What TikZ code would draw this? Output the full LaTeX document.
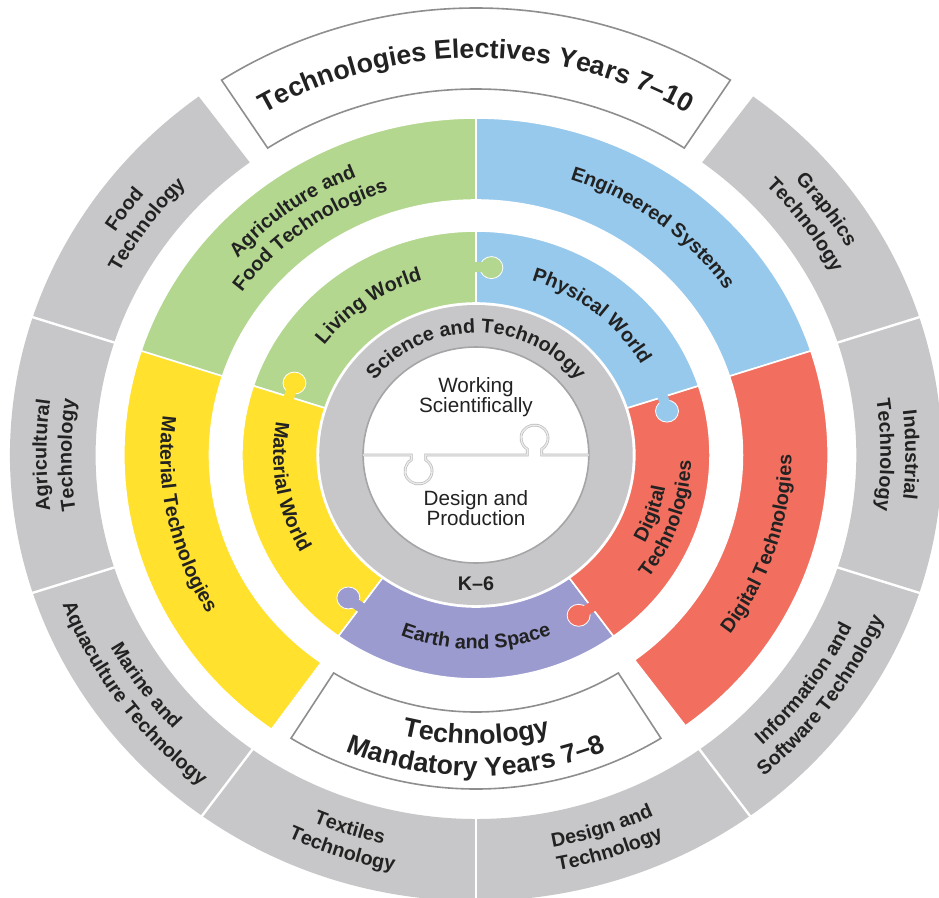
\documentclass[tikz,border=0pt]{standalone}
\usepackage{fontspec}
\setmainfont{Liberation Sans}
\usepackage{tikz}
\usetikzlibrary{decorations.text}
\usepackage{xcolor}

\definecolor{ringgrey}{HTML}{C7C7C9}
\definecolor{leafgreen}{HTML}{B3D78F}
\definecolor{skyblue}{HTML}{97C9EC}
\definecolor{coral}{HTML}{F26F5F}
\definecolor{sunyellow}{HTML}{FFE12E}
\definecolor{lavender}{HTML}{9B9BD0}
\definecolor{boxgrey}{HTML}{8E8E8E}
\definecolor{rimgrey}{HTML}{A5A5A7}
\definecolor{ink}{HTML}{222222}

\newcommand{\lblfont}{\fontsize{14.8}{17}\selectfont\bfseries}
\newcommand{\bigfont}{\fontsize{20}{23}\selectfont\bfseries}
\newcommand{\midfont}{\fontsize{15.5}{15.5}\selectfont}

\begin{document}
\begin{tikzpicture}[
    x=0.7837pt, y=0.75pt,
    sector/.style={draw=white, line width=1.2pt},
    titlebox/.style={fill=white, draw=boxgrey, line width=1.2pt},
    divider/.style={draw=white, line width=1.8pt},
    knob/.style={fill=#1, draw=white, line width=0.6pt},
    seam/.style={draw=gray!55, line width=0.5pt, double=gray!15, double distance=1pt},
    arctext/.style={decorate, decoration={text along path, text align=center, text color=ink, text={|\lblfont|#1}}},
    bigarctext/.style={decorate, decoration={text along path, text align=center, text color=ink, text={|\bigfont|#1}}}
]
    % Canvas
    \fill[white] (-455.5,-442) rectangle (443.1,455);
    \useasboundingbox (-455.5,-442) rectangle (443.1,455);

    % Outer ring: electives
    \fill[ringgrey] (126.5:364) arc[start angle=126.5, end angle=413.5, radius=364] -- (413.5:446) arc[start angle=413.5, end angle=126.5, radius=446] -- cycle;
    \draw[divider] (162:360) -- (162:450);
    \draw[divider] (198:360) -- (198:450);
    \draw[divider] (234:360) -- (234:450);
    \draw[divider] (270:360) -- (270:450);
    \draw[divider] (306:360) -- (306:450);
    \draw[divider] (342:360) -- (342:450);
    \draw[divider] (18:360) -- (18:450);
    \draw[titlebox] (57:366) arc[start angle=57, end angle=123, radius=366] -- (123:447) arc[start angle=123, end angle=57, radius=447] -- cycle;

    % Middle ring: 7-10 contexts
    \draw[sector, fill=leafgreen] (90:255) arc[start angle=90, end angle=162, radius=255] -- (162:337) arc[start angle=162, end angle=90, radius=337] -- cycle;
    \draw[sector, fill=skyblue] (18:255) arc[start angle=18, end angle=90, radius=255] -- (90:337) arc[start angle=90, end angle=18, radius=337] -- cycle;
    \draw[sector, fill=coral] (-53.5:255) arc[start angle=-53.5, end angle=18, radius=255] -- (18:337) arc[start angle=18, end angle=-53.5, radius=337] -- cycle;
    \draw[sector, fill=sunyellow] (162:255) arc[start angle=162, end angle=234.5, radius=255] -- (234.5:337) arc[start angle=234.5, end angle=162, radius=337] -- cycle;
    \draw[titlebox] (238:257) arc[start angle=238, end angle=302, radius=257] -- (302:334) arc[start angle=302, end angle=238, radius=334] -- cycle;

    % Inner ring: K-6 strands
    \draw[sector, fill=leafgreen] (90:152) arc[start angle=90, end angle=162, radius=152] -- (162:224) arc[start angle=162, end angle=90, radius=224] -- cycle;
    \draw[sector, fill=sunyellow] (162:152) arc[start angle=162, end angle=234, radius=152] -- (234:224) arc[start angle=234, end angle=162, radius=224] -- cycle;
    \draw[sector, fill=lavender] (234:152) arc[start angle=234, end angle=306, radius=152] -- (306:224) arc[start angle=306, end angle=234, radius=224] -- cycle;
    \draw[sector, fill=coral] (-54:152) arc[start angle=-54, end angle=18, radius=152] -- (18:224) arc[start angle=18, end angle=-54, radius=224] -- cycle;
    \draw[sector, fill=skyblue] (18:152) arc[start angle=18, end angle=90, radius=152] -- (90:224) arc[start angle=90, end angle=18, radius=224] -- cycle;

    % Puzzle knobs
    \draw[knob=leafgreen] (85.5:188) circle (11);
    \fill[leafgreen] (90.5:183) arc[start angle=90.5, end angle=87, radius=183] -- (87:193) arc[start angle=87, end angle=90.5, radius=193] -- cycle;
    \draw[knob=sunyellow] (157.5:188) circle (11);
    \fill[sunyellow] (162.5:183) arc[start angle=162.5, end angle=159, radius=183] -- (159:193) arc[start angle=159, end angle=162.5, radius=193] -- cycle;
    \draw[knob=lavender] (229.5:188) circle (11);
    \fill[lavender] (234.5:183) arc[start angle=234.5, end angle=231, radius=183] -- (231:193) arc[start angle=231, end angle=234.5, radius=193] -- cycle;
    \draw[knob=coral] (301.5:188) circle (11);
    \fill[coral] (306.5:183) arc[start angle=306.5, end angle=303, radius=183] -- (303:193) arc[start angle=303, end angle=306.5, radius=193] -- cycle;
    \draw[knob=skyblue] (13.5:188) circle (11);
    \fill[skyblue] (18.5:183) arc[start angle=18.5, end angle=15, radius=183] -- (15:193) arc[start angle=15, end angle=18.5, radius=193] -- cycle;

    % Core
    \fill[ringgrey] (0,0) circle (150);
    \draw[fill=white, draw=rimgrey, line width=1.2pt] (0,0) circle (108);
    \draw[seam] (180:108) -- (-62,0) -- (-62,-5.05) arc[start angle=122.6, end angle=417.4, radius=13] -- (-48,0) -- (49,0) -- (49,6.05) arc[start angle=237.4, end angle=-57.4, radius=13] -- (63,0) -- (0:108);

    % Nodes
    \node[font=\midfont, text=ink, align=center] (working) at (0,58) {Working\\Scientifically};
    \node[font=\midfont, text=ink, align=center] (design) at (0,-53) {Design and\\Production};
    \node[font=\lblfont, text=ink] (ksix) at (0,-129) {K–6};

    % Curved labels, core and inner ring
    \path[arctext=Science and Technology] (170:122) arc[start angle=170, end angle=10, radius=122];
    \path[arctext=Living World] (165:182) arc[start angle=165, end angle=85, radius=182];
    \path[arctext=Physical World] (91:182) arc[start angle=91, end angle=11, radius=182];
    \path[arctext=Digital] (-59:184) arc[start angle=-59, end angle=21, radius=184];
    \path[arctext=Technologies] (-59:206) arc[start angle=-59, end angle=21, radius=206];
    \path[arctext=Earth and Space] (225:194) arc[start angle=225, end angle=315, radius=194];
    \path[arctext=Material World] (150:194) arc[start angle=150, end angle=230, radius=194];

    % Curved labels, middle ring
    \path[arctext=Agriculture and] (156:301) arc[start angle=156, end angle=96, radius=301];
    \path[arctext=Food Technologies] (156:277) arc[start angle=156, end angle=96, radius=277];
    \path[arctext=Engineered Systems] (88:290) arc[start angle=88, end angle=18, radius=290];
    \path[arctext=Digital Technologies] (-53:302) arc[start angle=-53, end angle=17, radius=302];
    \path[arctext=Material Technologies] (157:302) arc[start angle=157, end angle=227, radius=302];
    \path[bigarctext=Technology] (240:289) arc[start angle=240, end angle=300, radius=289];
    \path[bigarctext=Mandatory Years 7–8] (238:321) arc[start angle=238, end angle=302, radius=321];

    % Curved labels, outer ring
    \path[bigarctext=Technologies Electives Years 7–10] (125:397) arc[start angle=125, end angle=55, radius=397];
    \path[arctext=Food] (164:411) arc[start angle=164, end angle=124, radius=411];
    \path[arctext=Technology] (164:387) arc[start angle=164, end angle=124, radius=387];
    \path[arctext=Agricultural] (200:411) arc[start angle=200, end angle=160, radius=411];
    \path[arctext=Technology] (200:387) arc[start angle=200, end angle=160, radius=387];
    \path[arctext=Marine and] (196:399) arc[start angle=196, end angle=236, radius=399];
    \path[arctext=Aquaculture Technology] (196:423) arc[start angle=196, end angle=236, radius=423];
    \path[arctext=Textiles] (232:399) arc[start angle=232, end angle=272, radius=399];
    \path[arctext=Technology] (232:423) arc[start angle=232, end angle=272, radius=423];
    \path[arctext=Design and] (268:399) arc[start angle=268, end angle=308, radius=399];
    \path[arctext=Technology] (268:423) arc[start angle=268, end angle=308, radius=423];
    \path[arctext=Information and] (304:399) arc[start angle=304, end angle=344, radius=399];
    \path[arctext=Software Technology] (304:423) arc[start angle=304, end angle=344, radius=423];
    \path[arctext=Industrial] (20:411) arc[start angle=20, end angle=-20, radius=411];
    \path[arctext=Technology] (20:387) arc[start angle=20, end angle=-20, radius=387];
    \path[arctext=Graphics] (56:411) arc[start angle=56, end angle=16, radius=411];
    \path[arctext=Technology] (56:387) arc[start angle=56, end angle=16, radius=387];
\end{tikzpicture}
\end{document}
